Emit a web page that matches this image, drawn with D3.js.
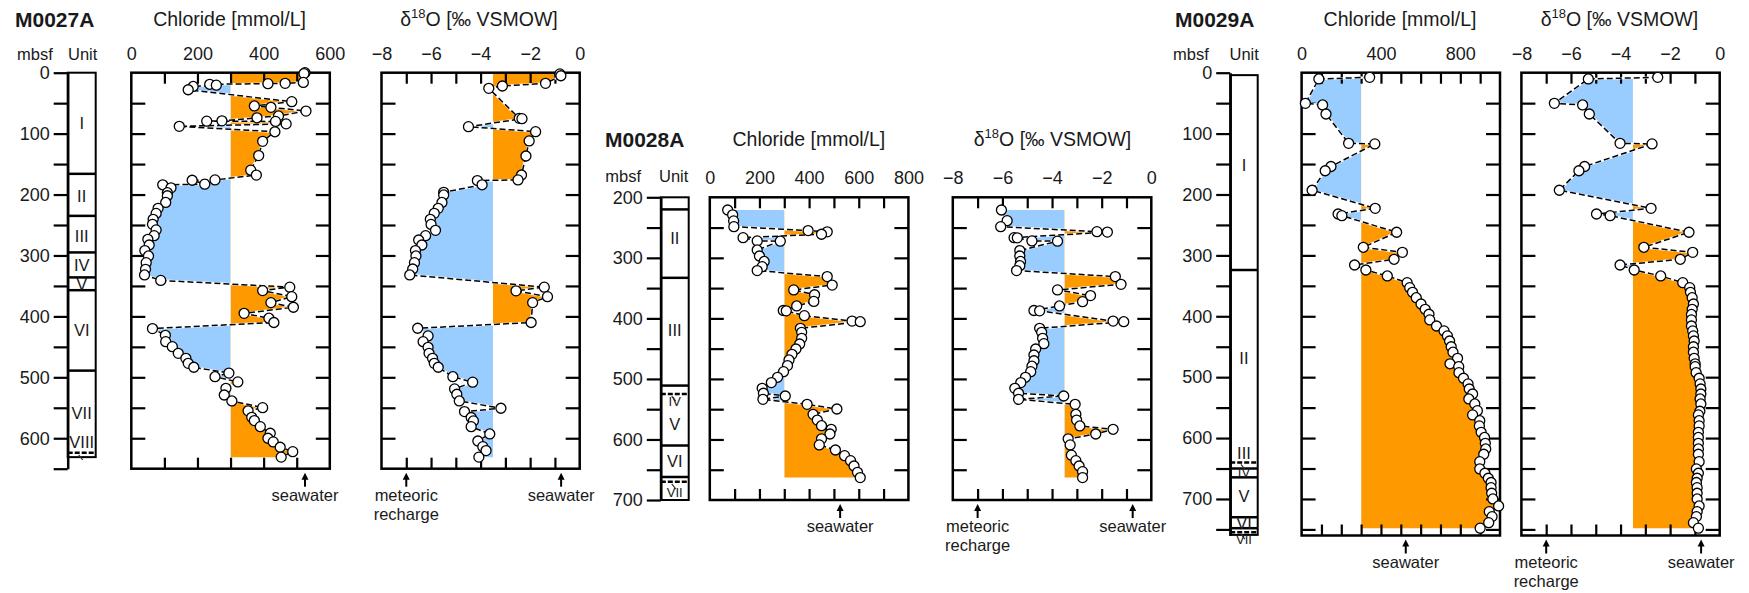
<!DOCTYPE html>
<html>
<head>
<meta charset="utf-8">
<script src="https://cdn.jsdelivr.net/npm/d3@7"></script>
<style>
  body { margin: 0; background: #fff; }
  svg { display: block; font-family: "Liberation Sans", Arial, Helvetica, sans-serif; }
  text { fill: #1a1a1a; }
</style>
</head>
<body>
<div id="chart"></div>
<script>
// Pore-water chloride and d18O profiles for three drill sites, with lithologic units.
// Each profile is [depth mbsf, value]; fill is coloured against a reference value.

const m27Chloride = [[0,525],[1.5,522],[16,520],[17.5,465],[18,413],[19,237],[20.5,257],[22.6,187],[28,172],[47.6,485],[54.6,372],[56.8,422],[63,528],[71,445],[74,380],[79,274],[79.5,228],[80,436],[84,468],[88,145],[97,434],[112.6,397],[136,385],[160,361],[168,378],[176,253],[176.5,184],[183,222],[184,95],[189,120],[197,109],[202,109],[213,104],[222.6,81],[231,75],[240.7,66],[248.9,64],[258,75],[267.5,69],[273.5,50],[282.8,54],[292,41],[300.8,52],[311.8,45],[322.7,43],[332,40],[341,89],[352,479],[357.7,397],[367.6,485],[377.4,422],[385,490],[395,341],[403,416],[410,431],[420,64],[431,103],[441.5,104],[449.7,124],[460.6,142],[468.8,165],[477,172],[483.5,189],[493,295],[499,253],[507.6,322],[518,286],[529,281],[538.8,304],[549.8,397],[555,353],[565.6,364],[571,372],[581,390],[591.8,420],[600,413],[606,429],[614.8,450],[622,488],[631,453]];
const m27O18 = [[2,-0.8],[5,-0.76],[17.5,-1.38],[21.8,-3.12],[25.7,-3.67],[74.9,-2.44],[75.5,-2.33],[88.6,-4.49],[96.8,-1.78],[112,-2.04],[136.7,-2.17],[167.9,-2.35],[176,-2.49],[177,-4.13],[184,-3.94],[196.3,-5.49],[200.7,-5.49],[213,-5.56],[222.6,-5.71],[230.8,-5.87],[240.7,-6.03],[249,-6.0],[258.7,-5.82],[267.5,-6.22],[274.6,-6.5],[282.8,-6.37],[292,-6.63],[300.8,-6.61],[311.8,-6.67],[322.2,-6.74],[332,-6.86],[352,-1.43],[358,-2.57],[367.6,-1.3],[377.4,-1.9],[410,-1.96],[419.5,-6.54],[432,-6.12],[441.5,-6.32],[450.7,-6.12],[460.6,-6.08],[468.8,-5.94],[477,-5.87],[483.5,-5.71],[499,-5.12],[508,-4.32],[519,-5.05],[527.8,-4.96],[538.8,-4.86],[550.8,-3.18],[556.3,-4.65],[566,-4.38],[571.6,-4.29],[581,-4.38],[593,-3.63],[604.5,-4.11],[613.8,-3.91],[620.3,-3.78],[631,-4.07]];

const m28Chloride = [[221,72],[229,92],[239,96],[248.5,97],[255,396],[257,473],[261,450],[266.7,134],[272,191],[272.5,284],[287,191],[297,200],[306,219],[314.6,211],[321,191],[331,473],[345,493],[353,338],[361,422],[372,419],[379.5,350],[387,296],[387.5,308],[395.5,381],[404.5,573],[405.5,606],[416.4,365],[423,370],[433,370],[442.3,362],[450.6,347],[459.4,331],[468.7,319],[478,313],[488,297],[497.3,273],[506,248],[515.5,211],[523.7,216],[528.2,304],[533.7,214],[542,392],[549.7,512],[558.5,416],[568,433],[577.3,450],[583.2,489],[591,484],[599,450],[609,441],[617.4,506],[626.8,543],[635,567],[643.8,581],[654.3,595],[663,606]];
const m28O18 = [[221,-6.04],[238.6,-5.81],[248.5,-6.07],[256.8,-2.19],[257.5,-1.77],[266.7,-5.53],[267,-5.4],[272,-4.81],[272.5,-3.78],[288,-5.3],[297,-5.3],[306,-5.27],[313,-5.3],[321,-5.43],[331,-1.45],[343.8,-1.22],[353,-3.78],[362.4,-2.45],[372.4,-2.77],[379.5,-3.7],[387,-4.73],[387.5,-4.5],[404.5,-1.54],[405.5,-1.11],[416.4,-4.5],[423,-4.42],[433,-4.38],[441.8,-4.33],[450.6,-4.66],[460.5,-4.73],[470,-4.73],[479,-4.81],[488,-4.86],[497.3,-5.07],[506,-5.26],[515.5,-5.5],[523.7,-5.35],[528.2,-3.53],[533.7,-5.35],[542,-3.07],[558.5,-3.04],[568,-3.01],[577.7,-2.88],[583.2,-1.54],[591,-2.24],[599,-3.35],[609,-3.27],[626,-3.22],[635,-3.04],[643.8,-2.91],[653.2,-2.77],[663,-2.77]];

const m29Chloride = [[7.6,343],[10.3,87],[50.3,19],[53,106],[67.8,123],[116,237],[117,369],[154,148],[161,119],[193,53],[222.7,371],[232,184],[234.8,203],[262,479],[286.7,311],[295,508],[306.4,466],[315.8,267],[324,324],[333.8,432],[344.8,532],[353,545],[360.6,559],[369.5,578],[379.8,602],[388.5,623],[396.7,642],[406,646],[416,680],[424,718],[432.3,735],[440.6,746],[450,754],[459,763],[469,786],[478,748],[482.8,792],[492.6,793],[501.8,816],[511,839],[519.4,845],[527.6,862],[535.8,843],[544,873],[555,886],[562,862],[571.5,898],[580,896],[590.5,905],[599,922],[608.6,926],[617.9,928],[626.6,918],[638.7,898],[650.7,898],[657.8,924],[666,941],[673,955],[681.4,955],[690.6,958],[700,964],[711.5,993],[720.8,946],[729,960],[738.9,943],[748,900]];
const m29O18 = [[7.6,-2.5],[10.3,-5.3],[50.3,-6.67],[53,-5.53],[67.8,-5.26],[116,-4.02],[117,-2.73],[154,-5.45],[161,-5.68],[193,-6.47],[222.7,-2.77],[232,-4.97],[234.8,-4.42],[262,-1.24],[286.7,-3.06],[295,-1.09],[306.4,-1.59],[315.8,-4.02],[324,-3.45],[333.8,-2.38],[344.8,-1.49],[353,-1.21],[360.6,-1.18],[369.5,-1.11],[379.8,-1.06],[388.5,-1.11],[397,-1.14],[406,-1.14],[416,-1.14],[424,-1.09],[432.3,-1.06],[440.6,-1.03],[450,-1.06],[459,-1.06],[469,-1.03],[478,-0.99],[482.8,-0.99],[492.6,-0.95],[501.8,-0.83],[511,-0.79],[519.4,-0.76],[527.6,-0.76],[535.8,-0.79],[544,-0.76],[556,-0.8],[562,-0.86],[571.5,-0.83],[580,-0.83],[590.5,-0.86],[599,-0.86],[608.6,-0.86],[617.9,-0.86],[626.6,-0.86],[638.7,-0.83],[650.7,-0.94],[657.8,-0.86],[666,-0.91],[673,-0.94],[681.4,-0.91],[690.6,-0.91],[700,-0.91],[711.5,-0.83],[720.8,-0.91],[729,-0.94],[738.9,-1.06],[748,-0.86]];

// Lithologic units: label names, label depths, boundary depths
const m27UnitNames = ["I", "II", "III", "IV", "V", "VI", "VII", "VIII"];
const m27UnitLabelDepths = [83, 202, 268, 316, 347, 423, 559, 607];
const m27UnitLines = [166, 235, 295, 336, 357, 489];
const m27UnitDashed = [624];
const m27Column = [0, 631];
const m27SmallUnits = [];

const m28UnitNames = ["II", "III", "IV", "V", "VI", "VII"];
const m28UnitLabelDepths = [268, 419, 537, 574, 636, 688];
const m28UnitLines = [220, 333, 511, 610, 662];
const m28UnitDashed = [525, 670];
const m28Column = [200, 700];
const m28SmallUnits = ["IV", "VII"];

const m29UnitNames = ["I", "II", "III", "IV", "V", "VI", "VII"];
const m29UnitLabelDepths = [152, 469, 625, 656, 695, 740, 767];
const m29UnitLines = [324, 650, 664.5, 730, 748];
const m29UnitDashed = [640, 754.6];
const m29Column = [4, 759];
const m29SmallUnits = ["IV", "VII"];

// Reference values
const chlorideBase = 300;
const o18Base = -3.5;
const chlorideSeawater = 525;
const o18Seawater = -0.75;
const o18Meteoric = -7;

const ORANGE = "#ff9900";
const BLUE = "#99ccff";

const svg = d3.select("#chart").append("svg")
  .attr("width", 1749)
  .attr("height", 593);
const defs = svg.append("defs");

function label(g, x, y, str, size, anchor = "start", weight = "normal") {
  return g.append("text")
    .attr("x", x).attr("y", y)
    .attr("font-size", size)
    .attr("font-weight", weight)
    .attr("text-anchor", anchor)
    .text(str);
}

function styleAxis(sel, size) {
  sel.attr("font-family", null).attr("font-size", size);
  sel.selectAll(".tick line").attr("stroke", "#000").attr("stroke-width", 2.2);
  sel.selectAll("text").attr("fill", "#1a1a1a");
}

// depth axis + lithologic column
function depthColumn(site) {
  const g = svg.append("g");
  const y = site.y;
  const cx = (site.axisX + site.colRight) / 2;

  g.append("rect")
    .attr("x", site.axisX)
    .attr("y", y(site.column[0]))
    .attr("width", site.colRight - site.axisX)
    .attr("height", y(site.column[1]) - y(site.column[0]))
    .attr("fill", "none").attr("stroke", "#000").attr("stroke-width", 2);

  g.selectAll(".unit-line").data(site.lines).join("line")
    .attr("x1", site.axisX).attr("x2", site.colRight)
    .attr("y1", d => y(d)).attr("y2", d => y(d))
    .attr("stroke", "#000").attr("stroke-width", 2.5);

  g.selectAll(".unit-dash").data(site.dashed).join("line")
    .attr("x1", site.axisX).attr("x2", site.colRight)
    .attr("y1", d => y(d)).attr("y2", d => y(d))
    .attr("stroke", "#000").attr("stroke-width", 2.5)
    .attr("stroke-dasharray", "5,2");

  g.selectAll(".unit-mark").data(site.dashed).join("line")
    .attr("x1", cx - 3).attr("x2", cx + 1)
    .attr("y1", d => y(d) + 2).attr("y2", d => y(d) + 7)
    .attr("stroke", "#333").attr("stroke-width", 1.2);

  g.selectAll(".unit-label").data(site.names).join("text")
    .attr("x", cx)
    .attr("y", (d, i) => y(site.labelDepths[i]))
    .attr("dy", "0.36em")
    .attr("text-anchor", "middle")
    .attr("font-size", d => site.small.includes(d) ? 13 : 16.5)
    .text(d => d);

  const [d0, d1] = y.domain();
  const axis = d3.axisLeft(y)
    .tickValues(d3.range(d0, d1 + 1, 50).filter(d => d <= d1))
    .tickFormat(d => d % 100 === 0 ? d : "")
    .tickSize(14)
    .tickSizeOuter(0)
    .tickPadding(4);
  const ga = g.append("g")
    .attr("transform", `translate(${site.axisX},0)`)
    .call(axis);
  styleAxis(ga, 18);
  ga.select(".domain").attr("stroke", "#000").attr("stroke-width", 2.5);

  label(g, site.mbsfX, site.headY, "mbsf", 16.5);
  label(g, site.unitX, site.headY, "Unit", 16.5);
  label(g, site.titleX, site.titleY, site.title, 21, "start", "bold");
}

let clipCount = 0;
function profile(o) {
  const g = svg.append("g");
  const y = o.y;
  const x = d3.scaleLinear().domain(o.domain).range([o.x0, o.x1]);
  const top = y.range()[0];
  const bot = y.range()[1];
  const xb = x(o.base);
  const id = "clip" + (clipCount++);

  defs.append("clipPath").attr("id", id + "r")
    .append("rect").attr("x", xb).attr("y", top).attr("width", o.x1 - xb).attr("height", bot - top);
  defs.append("clipPath").attr("id", id + "l")
    .append("rect").attr("x", o.x0).attr("y", top).attr("width", xb - o.x0).attr("height", bot - top);

  const area = d3.area()
    .y(d => y(d[0]))
    .x0(xb)
    .x1(d => x(d[1]));

  g.append("path").datum(o.data).attr("d", area)
    .attr("fill", ORANGE).attr("clip-path", `url(#${id}r)`);
  g.append("path").datum(o.data).attr("d", area)
    .attr("fill", BLUE).attr("clip-path", `url(#${id}l)`);

  // inner ticks on all four sides
  const xt = d3.range(o.domain[0] + o.xStep, o.domain[1] - o.xStep / 2, o.xStep);
  const [d0, d1] = y.domain();
  const yt = d3.range(d0 + 50, d1 - 1, 50);

  const tTop = g.append("g").attr("transform", `translate(0,${top})`)
    .call(d3.axisTop(x).tickValues(xt).tickSize(-11).tickFormat(""));
  const tBot = g.append("g").attr("transform", `translate(0,${bot})`)
    .call(d3.axisBottom(x).tickValues(xt).tickSize(-11).tickFormat(""));
  const tLeft = g.append("g").attr("transform", `translate(${o.x0},0)`)
    .call(d3.axisLeft(y).tickValues(yt).tickSize(-14).tickFormat(""));
  const tRight = g.append("g").attr("transform", `translate(${o.x1},0)`)
    .call(d3.axisRight(y).tickValues(yt).tickSize(-14).tickFormat(""));
  [tTop, tBot, tLeft, tRight].forEach(s => { styleAxis(s, 18); s.select(".domain").remove(); });

  // tick labels above the frame
  const tl = g.append("g").attr("transform", `translate(0,${top})`)
    .call(d3.axisTop(x).tickValues(o.labels).tickSize(0).tickPadding(13));
  styleAxis(tl, 18);
  tl.select(".domain").remove();

  // frame
  g.append("rect")
    .attr("x", o.x0).attr("y", top)
    .attr("width", o.x1 - o.x0).attr("height", bot - top)
    .attr("fill", "none").attr("stroke", "#000").attr("stroke-width", 2.5);

  // profile line: white under a black dash
  const line = d3.line().x(d => x(d[1])).y(d => y(d[0]));
  g.append("path").datum(o.data).attr("d", line)
    .attr("fill", "none").attr("stroke", "#fff").attr("stroke-width", 2.2);
  g.append("path").datum(o.data).attr("d", line)
    .attr("fill", "none").attr("stroke", "#000").attr("stroke-width", 1.5)
    .attr("stroke-dasharray", "6,3");

  g.selectAll("circle").data(o.data).join("circle")
    .attr("cx", d => x(d[1]))
    .attr("cy", d => y(d[0]))
    .attr("r", 5)
    .attr("fill", "#fff").attr("stroke", "#000").attr("stroke-width", 1.3);

  // reference arrows beneath the frame
  o.arrows.forEach(a => {
    const ax = x(a.value);
    g.append("line")
      .attr("x1", ax).attr("x2", ax)
      .attr("y1", bot + 9).attr("y2", bot + 18)
      .attr("stroke", "#000").attr("stroke-width", 2);
    g.append("path")
      .attr("d", `M${ax - 3.5},${bot + 11}L${ax},${bot + 4}L${ax + 3.5},${bot + 11}Z`)
      .attr("fill", "#000");
    a.text.forEach((t, i) => label(g, ax, bot + 32 + i * 19, t, 16.5, "middle"));
  });

  // panel title
  const tt = g.append("text")
    .attr("x", o.titleX).attr("y", o.titleY)
    .attr("text-anchor", "middle")
    .attr("font-size", 19.5);
  if (o.kind === "cl") {
    tt.text("Chloride [mmol/L]");
  } else {
    tt.append("tspan").text("δ");
    tt.append("tspan").attr("font-size", 13).attr("dy", -8).text("18");
    tt.append("tspan").attr("dy", 8).text("O [‰ VSMOW]");
  }
}

const sites = [
  {
    title: "M0027A", titleX: 15, titleY: 27, headY: 60, mbsfX: 17, unitX: 68,
    y: d3.scaleLinear().domain([0, 650]).range([72.7, 468.7]),
    axisX: 67.7, colRight: 95.7,
    names: m27UnitNames, labelDepths: m27UnitLabelDepths, lines: m27UnitLines,
    dashed: m27UnitDashed, column: m27Column, small: m27SmallUnits,
    cl: { data: m27Chloride, x0: 131.3, x1: 329.8, domain: [0, 600], xStep: 100, labels: [0, 200, 400, 600], titleX: 229.6 },
    o18: { data: m27O18, x0: 381.5, x1: 579.7, titleX: 479 },
    titleRowY: 26
  },
  {
    title: "M0028A", titleX: 605, titleY: 147, headY: 182, mbsfX: 605.3, unitX: 659,
    y: d3.scaleLinear().domain([200, 700]).range([197.3, 500]),
    axisX: 660.8, colRight: 688.7,
    names: m28UnitNames, labelDepths: m28UnitLabelDepths, lines: m28UnitLines,
    dashed: m28UnitDashed, column: m28Column, small: m28SmallUnits,
    cl: { data: m28Chloride, x0: 709.8, x1: 908.4, domain: [0, 800], xStep: 100, labels: [0, 200, 400, 600, 800], titleX: 808.9 },
    o18: { data: m28O18, x0: 952.8, x1: 1151.3, titleX: 1052.5 },
    titleRowY: 146
  },
  {
    title: "M0029A", titleX: 1175, titleY: 27, headY: 59.5, mbsfX: 1173, unitX: 1229.5,
    y: d3.scaleLinear().domain([0, 760]).range([72.7, 535.5]),
    axisX: 1230.2, colRight: 1257.7,
    names: m29UnitNames, labelDepths: m29UnitLabelDepths, lines: m29UnitLines,
    dashed: m29UnitDashed, column: m29Column, small: m29SmallUnits,
    cl: { data: m29Chloride, x0: 1301.6, x1: 1500, domain: [0, 1000], xStep: 100, labels: [0, 400, 800], titleX: 1400 },
    o18: { data: m29O18, x0: 1521.4, x1: 1719.7, titleX: 1619.4 },
    titleRowY: 26
  }
];

sites.forEach(s => {
  depthColumn(s);
  profile({
    kind: "cl", y: s.y, data: s.cl.data, x0: s.cl.x0, x1: s.cl.x1,
    domain: s.cl.domain, xStep: s.cl.xStep, labels: s.cl.labels,
    base: chlorideBase, titleX: s.cl.titleX, titleY: s.titleRowY,
    arrows: [{ value: chlorideSeawater, text: ["seawater"] }]
  });
  profile({
    kind: "o18", y: s.y, data: s.o18.data, x0: s.o18.x0, x1: s.o18.x1,
    domain: [-8, 0], xStep: 1, labels: [-8, -6, -4, -2, 0],
    base: o18Base, titleX: s.o18.titleX, titleY: s.titleRowY,
    arrows: [
      { value: o18Meteoric, text: ["meteoric", "recharge"] },
      { value: o18Seawater, text: ["seawater"] }
    ]
  });
});
</script>
</body>
</html>
